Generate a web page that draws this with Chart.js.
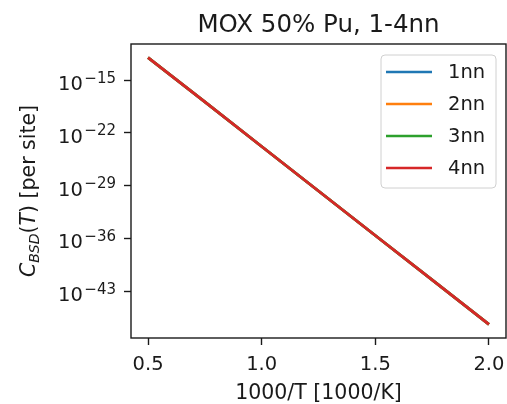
<!DOCTYPE html>
<html>
<head>
<meta charset="utf-8">
<title>MOX 50% Pu, 1-4nn</title>
<script src="https://cdn.jsdelivr.net/npm/chart.js@4.4.1/dist/chart.umd.min.js"></script>
<style>
  html, body { margin: 0; padding: 0; background: #fff; }
  canvas { display: block; }
</style>
</head>
<body>
<canvas id="bsdChart" width="507" height="404"></canvas>
<script>
// 1000/T sample points and BSD concentration per site for each neighbour shell
const xVals = [0.5, 0.75, 1.0, 1.25, 1.5, 1.75, 2.0];
const c1nn = [1.0e-12, 1.3e-18, 1.6e-24, 2.0e-30, 2.5e-36, 3.2e-42, 4.0e-48];
const c2nn = [1.0e-12, 1.3e-18, 1.6e-24, 2.0e-30, 2.5e-36, 3.2e-42, 4.0e-48];
const c3nn = [1.0e-12, 1.3e-18, 1.6e-24, 2.0e-30, 2.5e-36, 3.2e-42, 4.0e-48];
const c4nn = [1.0e-12, 1.3e-18, 1.6e-24, 2.0e-30, 2.5e-36, 3.2e-42, 4.0e-48];

const seriesNames = ["1nn", "2nn", "3nn", "4nn"];
const seriesValues = [c1nn, c2nn, c3nn, c4nn];
const seriesColors = ["#1f77b4", "#ff7f0e", "#2ca02c", "#d62728"];

const xTicks = [0.5, 1.0, 1.5, 2.0];
const yTicks = [1e-15, 1e-22, 1e-29, 1e-36, 1e-43];

const FONT = "'DejaVu Sans', sans-serif";
const INK = "#1a1a1a";

// frame, title, y tick labels with superscripts, mathtext-style y title, legend box
const decorations = {
    id: "decorations",
    afterDatasetsDraw(chart) {
        const { ctx, chartArea: a, scales } = chart;
        ctx.save();

        ctx.strokeStyle = INK;
        ctx.lineWidth = 1.4;
        ctx.strokeRect(a.left, a.top, a.right - a.left, a.bottom - a.top);

        ctx.fillStyle = INK;
        ctx.textBaseline = "alphabetic";
        ctx.textAlign = "center";
        ctx.font = "24.5px " + FONT;
        ctx.fillText("MOX 50% Pu, 1-4nn", (a.left + a.right) / 2, 32);

        // y tick labels: 10^-n
        const xr = a.left - 15;
        scales.y.ticks.forEach(function (t) {
            const y = scales.y.getPixelForValue(t.value);
            const exp = "\u2212" + Math.abs(Math.round(Math.log10(t.value)));
            ctx.textAlign = "right";
            ctx.font = "15px " + FONT;
            const ew = ctx.measureText(exp).width;
            ctx.fillText(exp, xr, y + 2.5);
            ctx.font = "19.5px " + FONT;
            ctx.fillText("10", xr - ew - 1.5, y + 10);
        });

        // y axis title
        const parts = [
            { t: "C", f: "italic 20.5px " + FONT, dy: 0 },
            { t: "BSD", f: "italic 14px " + FONT, dy: 3.5 },
            { t: "(", f: "20.5px " + FONT, dy: 0 },
            { t: "T", f: "italic 20.5px " + FONT, dy: 0 },
            { t: ")", f: "20.5px " + FONT, dy: 0 },
            { t: " [per site]", f: "20.5px " + FONT, dy: 0 },
        ];
        let total = 0;
        parts.forEach(function (p) {
            ctx.font = p.f;
            p.w = ctx.measureText(p.t).width;
            total += p.w;
        });
        ctx.save();
        ctx.translate(35, (a.top + a.bottom) / 2);
        ctx.rotate(-Math.PI / 2);
        ctx.textAlign = "left";
        let px = -total / 2;
        parts.forEach(function (p) {
            ctx.font = p.f;
            ctx.fillText(p.t, px, p.dy);
            px += p.w;
        });
        ctx.restore();

        // legend
        const bx = a.right - 125, by = a.top + 11, bw = 115, bh = 133;
        ctx.beginPath();
        ctx.roundRect(bx, by, bw, bh, 4);
        ctx.fillStyle = "rgba(255,255,255,0.8)";
        ctx.fill();
        ctx.strokeStyle = "#d0d0d0";
        ctx.lineWidth = 1;
        ctx.stroke();
        ctx.font = "19.5px " + FONT;
        ctx.textAlign = "left";
        ctx.textBaseline = "middle";
        chart.data.datasets.forEach(function (ds, i) {
            const y = by + 17 + i * 32;
            ctx.strokeStyle = ds.borderColor;
            ctx.lineWidth = 2.6;
            ctx.beginPath();
            ctx.moveTo(bx + 5, y);
            ctx.lineTo(bx + 51, y);
            ctx.stroke();
            ctx.fillStyle = INK;
            ctx.fillText(ds.label, bx + 67, y + 1);
        });

        ctx.restore();
    },
};

const datasets = seriesNames.map(function (name, i) {
    return {
        label: name,
        data: xVals.map(function (x, k) { return { x: x, y: seriesValues[i][k] }; }),
        borderColor: seriesColors[i],
        backgroundColor: seriesColors[i],
        borderWidth: 2.8,
        pointRadius: 0,
        fill: false,
        order: seriesNames.length - i,
    };
});

const ctx = document.getElementById("bsdChart").getContext("2d");

new Chart(ctx, {
    type: "line",
    data: { datasets: datasets },
    options: {
        responsive: false,
        animation: false,
        devicePixelRatio: 1,
        layout: { padding: { top: 44, right: 1, left: 0, bottom: 0 } },
        plugins: {
            legend: { display: false },
            title: { display: false },
            tooltip: { enabled: false },
        },
        scales: {
            x: {
                type: "linear",
                min: 0.425,
                max: 2.075,
                afterBuildTicks: function (s) { s.ticks = xTicks.map(function (v) { return { value: v }; }); },
                afterFit: function (s) {
                    s.height = 66;
                    s.paddingLeft = 0;
                    s.paddingRight = 0;
                },
                grid: { drawOnChartArea: false, tickLength: 7, tickWidth: 1.4, tickColor: INK },
                border: { display: false },
                ticks: {
                    color: INK,
                    font: { family: FONT, size: 19.5 },
                    padding: 8,
                    maxRotation: 0,
                    autoSkip: false,
                    callback: function (v) { return v.toFixed(1); },
                },
                title: {
                    display: true,
                    text: "1000/T [1000/K]",
                    color: INK,
                    font: { family: FONT, size: 20.5, lineHeight: 1 },
                    padding: { top: 0, bottom: 0 },
                },
            },
            y: {
                type: "logarithmic",
                min: 6.3e-50,
                max: 6.3e-11,
                afterBuildTicks: function (s) { s.ticks = yTicks.map(function (v) { return { value: v }; }); },
                afterFit: function (s) {
                    s.width = 131;
                    s.paddingTop = 0;
                    s.paddingBottom = 0;
                },
                grid: { drawOnChartArea: false, tickLength: 7, tickWidth: 1.4, tickColor: INK },
                border: { display: false },
                ticks: { display: false },
            },
        },
    },
    plugins: [decorations],
});
</script>
</body>
</html>
